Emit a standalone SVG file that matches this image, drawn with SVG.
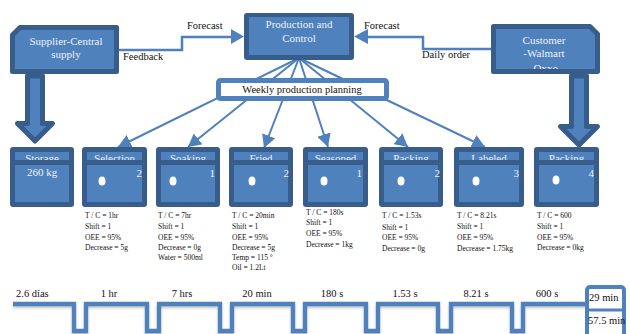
<svg xmlns="http://www.w3.org/2000/svg" width="630" height="334" viewBox="0 0 630 334">
<defs>
<style>
.dk{fill:#385d8a}
.lt{fill:#4f81bd}
.wt{font-family:"Liberation Serif",serif;font-size:11px;fill:#eef2f8;text-anchor:middle}
.bk{font-family:"Liberation Serif",serif;font-size:10.5px;fill:#111}
.sm{font-family:"Liberation Serif",serif;font-size:7.5px;fill:#111}
.num{font-family:"Liberation Serif",serif;font-size:11px;fill:#eef2f8;text-anchor:end}
.con{fill:none;stroke:#4f81bd;stroke-width:2.5}
.fan{fill:none;stroke:#4f81bd;stroke-width:2}
.big{fill:#4f81bd;stroke:#385d8a;stroke-width:5;stroke-linejoin:round}
</style>
<marker id="ah" markerUnits="userSpaceOnUse" markerWidth="14" markerHeight="14" refX="13" refY="7" orient="auto">
<path d="M0,0 L13,7 L0,14 Z" fill="#4f81bd"/>
</marker>
<clipPath id="custclip"><rect x="496" y="30" width="100" height="39"/></clipPath>
<filter id="sh" x="-5%" y="-50%" width="110%" height="200%"><feGaussianBlur stdDeviation="1.5"/></filter>
</defs>

<g id="connectors">
<path class="con" d="M119,50 H182 V37 H232"/>
<path d="M231,29 L244,36.5 L231,44 Z" fill="#4f81bd"/>
<path class="con" d="M491,49 H423 V37 H367"/>
<path d="M368,29 L354,36.5 L368,44 Z" fill="#4f81bd"/>
<line class="fan" x1="299" y1="58" x2="118" y2="147" marker-end="url(#ah)"/>
<line class="fan" x1="299" y1="58" x2="188" y2="147" marker-end="url(#ah)"/>
<line class="fan" x1="299" y1="58" x2="264" y2="148" marker-end="url(#ah)"/>
<line class="fan" x1="299" y1="58" x2="328" y2="147" marker-end="url(#ah)"/>
<line class="fan" x1="299" y1="58" x2="408" y2="147" marker-end="url(#ah)"/>
<line class="fan" x1="299" y1="58" x2="485" y2="147" marker-end="url(#ah)"/>
<path class="big" d="M27.5,76 V123.5 H17.5 L35,141 L52.5,123.5 H42.5 V76 Z"/>
<path class="big" d="M571.5,76 V126.5 H560.5 L579,145 L597.5,126.5 H586.5 V76 Z"/>
</g>

<text class="bk" x="187" y="29">Forecast</text>
<text class="bk" x="123" y="60">Feedback</text>
<text class="bk" x="364" y="29">Forecast</text>
<text class="bk" x="422" y="58">Daily order</text>

<g id="supplier">
<path d="M20,27.5 H116.5 V71.5 H12.5 V35 Z" fill="#4f81bd" stroke="#385d8a" stroke-width="5" stroke-linejoin="round"/>
<text class="wt" x="66" y="45">Supplier-Central</text>
<text class="wt" x="66" y="58">supply</text>
</g>

<g id="customer">
<path d="M493.5,26.5 H590 L597.5,34 V71.5 H493.5 Z" fill="#4f81bd" stroke="#385d8a" stroke-width="5" stroke-linejoin="round"/>
<g clip-path="url(#custclip)">
<text class="wt" x="544" y="44">Customer</text>
<text class="wt" x="544" y="57">-Walmart</text>
<text class="wt" x="544" y="72">-Oxxo</text>
</g>
</g>

<g id="weekly">
<rect x="218.5" y="80.5" width="168" height="18" rx="2" fill="#fff" stroke="#4f81bd" stroke-width="5"/>
<text class="bk" x="302" y="93" text-anchor="middle" font-size="11">Weekly production planning</text>
</g>

<g id="production">
<rect x="244" y="13" width="110" height="47" rx="3" class="dk"/>
<rect x="249" y="17" width="100" height="38" class="lt"/>
<text class="wt" x="299" y="28">Production and</text>
<text class="wt" x="299" y="42">Control</text>
</g>

<g id="storage">
<rect x="10" y="147" width="64" height="60" rx="3" class="dk"/>
<rect x="15" y="152" width="54" height="8" class="lt"/>
<text class="wt" x="42" y="162">Storage</text>
<rect x="15" y="160" width="54" height="5" class="dk"/>
<rect x="15" y="165" width="54" height="37" class="lt"/>
<text class="wt" x="42" y="176">260 kg</text>
</g>

<g id="selection">
<rect x="82" y="147" width="65" height="60" rx="3" class="dk"/>
<rect x="87" y="152" width="55" height="8" class="lt"/>
<text class="wt" x="114.5" y="162">Selection</text>
<rect x="87" y="160" width="55" height="5" class="dk"/>
<rect x="87" y="165" width="55" height="37" class="lt"/>
<ellipse cx="102" cy="181" rx="3.5" ry="4.5" fill="#fff"/>
<text class="num" x="142" y="177">2</text>
<text class="sm" x="85" y="218">T / C = 1hr</text>
<text class="sm" x="85" y="229">Shift = 1</text>
<text class="sm" x="85" y="240">OEE = 95%</text>
<text class="sm" x="85" y="250">Decrease = 5g</text>
</g>

<g id="soaking">
<rect x="156" y="147" width="64" height="60" rx="3" class="dk"/>
<rect x="161" y="152" width="54" height="8" class="lt"/>
<text class="wt" x="188" y="162">Soaking</text>
<rect x="161" y="160" width="54" height="5" class="dk"/>
<rect x="161" y="165" width="54" height="37" class="lt"/>
<ellipse cx="173" cy="181" rx="3.5" ry="4.5" fill="#fff"/>
<text class="num" x="215" y="177">1</text>
<text class="sm" x="158" y="218">T / C = 7hr</text>
<text class="sm" x="158" y="229">Shift = 1</text>
<text class="sm" x="158" y="240">OEE = 95%</text>
<text class="sm" x="158" y="250">Decrease = 0g</text>
<text class="sm" x="158" y="260">Water = 500ml</text>
</g>

<g id="fried">
<rect x="229" y="147" width="64" height="60" rx="3" class="dk"/>
<rect x="234" y="152" width="54" height="8" class="lt"/>
<text class="wt" x="261" y="162">Fried</text>
<rect x="234" y="160" width="54" height="5" class="dk"/>
<rect x="234" y="165" width="54" height="37" class="lt"/>
<ellipse cx="252" cy="181" rx="3.5" ry="4.5" fill="#fff"/>
<text class="num" x="289" y="177">2</text>
<text class="sm" x="232" y="218">T / C = 20min</text>
<text class="sm" x="232" y="229">Shift = 1</text>
<text class="sm" x="232" y="240">OEE = 95%</text>
<text class="sm" x="232" y="250">Decrease = 5g</text>
<text class="sm" x="232" y="260">Temp = 115 °</text>
<text class="sm" x="232" y="270">Oil = 1.2Lt</text>
</g>

<g id="seasoned">
<rect x="303" y="147" width="65" height="60" rx="3" class="dk"/>
<rect x="308" y="152" width="55" height="8" class="lt"/>
<text class="wt" x="335.5" y="162">Seasoned</text>
<rect x="308" y="160" width="55" height="5" class="dk"/>
<rect x="308" y="165" width="55" height="37" class="lt"/>
<ellipse cx="324" cy="181" rx="3.5" ry="4.5" fill="#fff"/>
<text class="num" x="362" y="177">1</text>
<text class="sm" x="306" y="215">T / C = 180s</text>
<text class="sm" x="306" y="225">Shift = 1</text>
<text class="sm" x="306" y="236">OEE = 95%</text>
<text class="sm" x="306" y="247">Decrease = 1kg</text>
</g>

<g id="packing1">
<rect x="379" y="147" width="64" height="60" rx="3" class="dk"/>
<rect x="384" y="152" width="54" height="8" class="lt"/>
<text class="wt" x="411" y="162">Packing</text>
<rect x="384" y="160" width="54" height="5" class="dk"/>
<rect x="384" y="165" width="54" height="37" class="lt"/>
<ellipse cx="401" cy="181" rx="3.5" ry="4.5" fill="#fff"/>
<text class="num" x="440" y="177">2</text>
<text class="sm" x="382" y="218">T / C = 1.53s</text>
<text class="sm" x="382" y="230">Shift = 1</text>
<text class="sm" x="382" y="240">OEE = 95%</text>
<text class="sm" x="382" y="251">Decrease = 0g</text>
</g>

<g id="labeled">
<rect x="454" y="147" width="70" height="60" rx="3" class="dk"/>
<rect x="459" y="152" width="60" height="8" class="lt"/>
<text class="wt" x="489" y="162">Labeled</text>
<rect x="459" y="160" width="60" height="5" class="dk"/>
<rect x="459" y="165" width="60" height="37" class="lt"/>
<ellipse cx="476" cy="181" rx="3.5" ry="4.5" fill="#fff"/>
<text class="num" x="519" y="177">3</text>
<text class="sm" x="457" y="218">T / C = 8.21s</text>
<text class="sm" x="457" y="229">Shift = 1</text>
<text class="sm" x="457" y="240">OEE = 95%</text>
<text class="sm" x="457" y="251">Decrease = 1.75kg</text>
</g>

<g id="packing2">
<rect x="534" y="147" width="65" height="60" rx="3" class="dk"/>
<rect x="539" y="152" width="55" height="8" class="lt"/>
<text class="wt" x="566.5" y="162">Packing</text>
<rect x="539" y="160" width="55" height="5" class="dk"/>
<rect x="539" y="165" width="55" height="37" class="lt"/>
<ellipse cx="556" cy="180" rx="3.5" ry="4.5" fill="#fff"/>
<text class="num" x="594" y="177">4</text>
<text class="sm" x="537" y="218">T / C = 600</text>
<text class="sm" x="537" y="229">Shift = 1</text>
<text class="sm" x="537" y="240">OEE = 95%</text>
<text class="sm" x="537" y="250">Decrease = 0kg</text>
</g>

<g id="timeline">
<path d="M13,306 H74 V333 H86 V306 H147 V333 H159 V306 H220 V333 H232 V306 H293 V333 H305 V306 H366 V333 H378 V306 H438 V333 H451 V306 H512 V333 H523 V306 H587" fill="none" stroke="#999" stroke-width="4" filter="url(#sh)" opacity="0.6"/>
<path d="M13,304 H74 V331 H86 V304 H147 V331 H159 V304 H220 V331 H232 V304 H293 V331 H305 V304 H366 V331 H378 V304 H438 V331 H451 V304 H512 V331 H523 V304 H587" fill="none" stroke="#4f81bd" stroke-width="4.3"/>
<text class="bk" x="16" y="297">2.6 días</text>
<text class="bk" x="109" y="297" text-anchor="middle">1 hr</text>
<text class="bk" x="182" y="297" text-anchor="middle">7 hrs</text>
<text class="bk" x="257" y="297" text-anchor="middle">20 min</text>
<text class="bk" x="332" y="297" text-anchor="middle">180 s</text>
<text class="bk" x="405" y="297" text-anchor="middle">1.53 s</text>
<text class="bk" x="476" y="297" text-anchor="middle">8.21 s</text>
<text class="bk" x="547" y="297" text-anchor="middle">600 s</text>
<rect x="587" y="287" width="37" height="50" rx="3" fill="#fff" stroke="#4f81bd" stroke-width="4"/>
<line x1="587" y1="310" x2="624" y2="310" stroke="#4f81bd" stroke-width="3"/>
<text class="bk" x="589" y="301">29 min</text>
<text class="bk" x="588" y="324">57.5 min</text>
</g>
</svg>
